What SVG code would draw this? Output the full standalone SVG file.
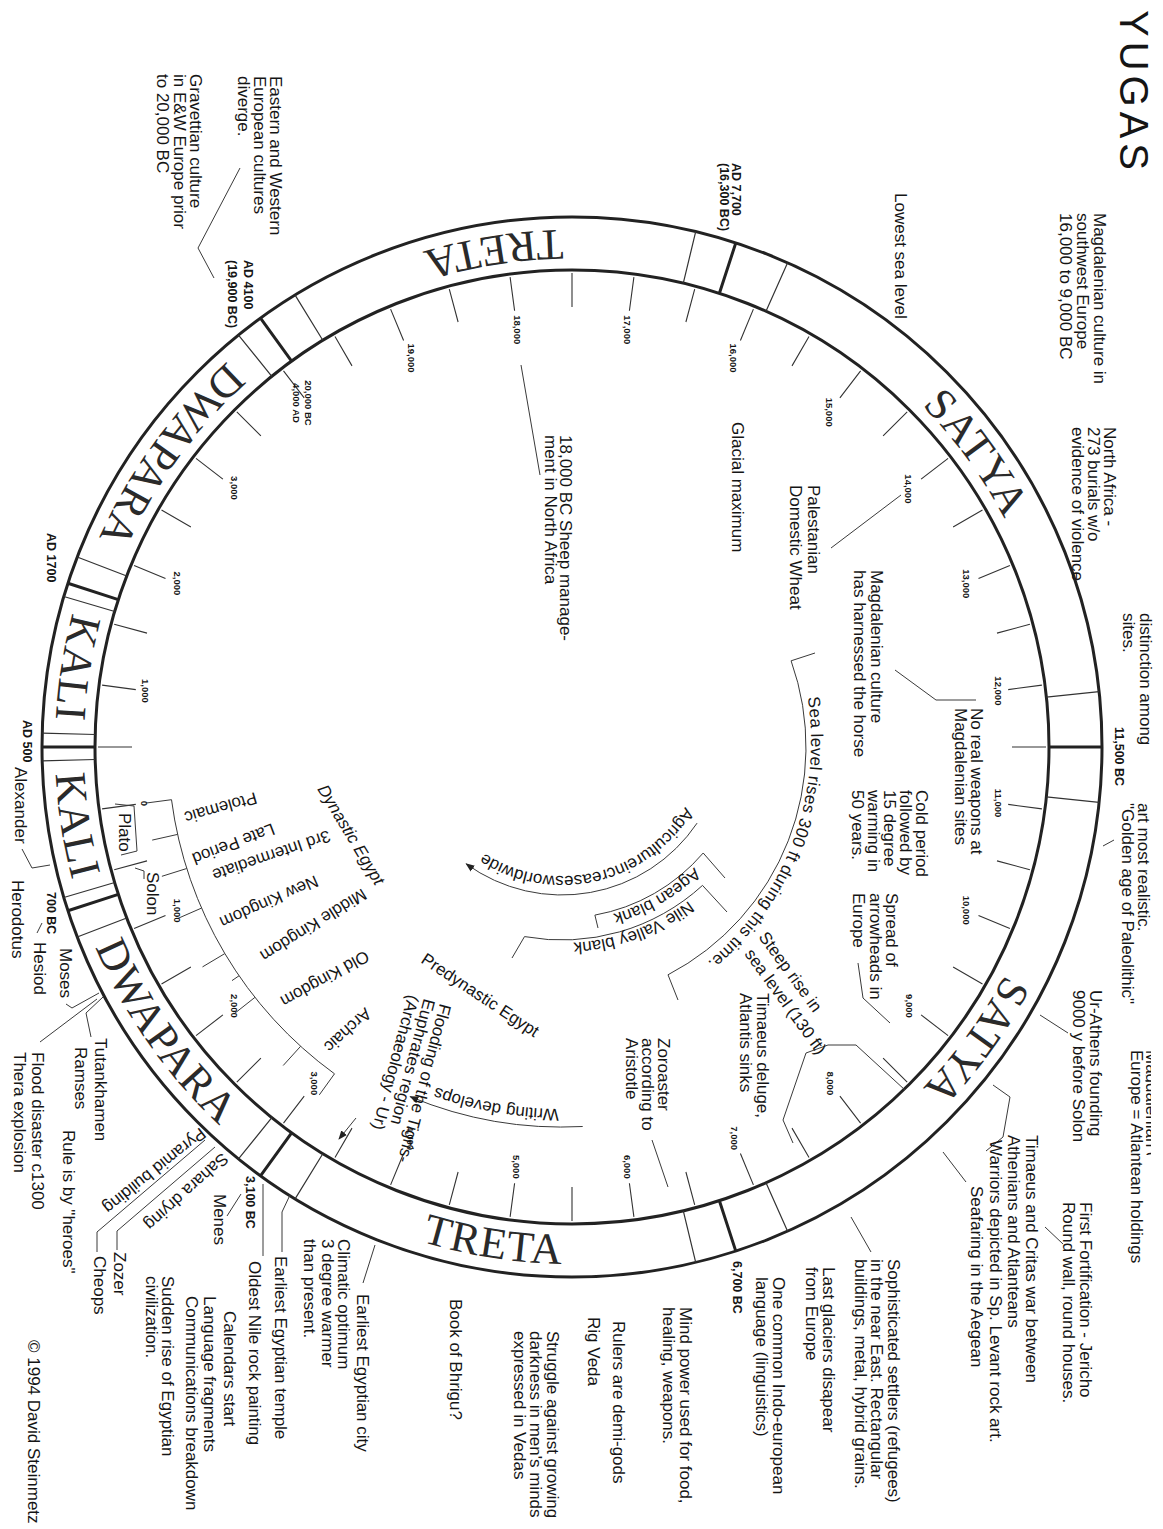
<svg xmlns="http://www.w3.org/2000/svg" width="1163" height="1529" viewBox="0 0 1163 1529">
<style>
text{font-family:"Liberation Sans",Arial,sans-serif;fill:#151515}
.t{font-size:17px}
.d{font-size:12.5px;font-weight:bold}
.k{font-size:9.5px;font-weight:bold;text-anchor:middle}
.y{font-family:"Liberation Serif","Times New Roman",serif;font-size:44px;letter-spacing:1px;fill:#2a2a2a}
.ln{stroke:#3a3a3a;stroke-width:1;fill:none}
.th{stroke:#222;stroke-width:3;fill:none}
.sn{stroke:#333;stroke-width:1.2;fill:none}
.tk{stroke:#333;stroke-width:1.1;fill:none}
</style>
<defs>
<marker id="ah" viewBox="0 0 10 10" refX="9" refY="5" markerWidth="9" markerHeight="9" orient="auto" markerUnits="userSpaceOnUse"><path d="M0,1 L10,5 L0,9 z" fill="#222"/></marker>
<clipPath id="edgeclip" clipPathUnits="userSpaceOnUse"><rect x="1047" y="12" width="108" height="5.5"/></clipPath>
<path id="pS1" d="M690.3,272.5 A489,489 0 0 1 1059.8,781.1"/>
<path id="pS2" d="M1059.8,712.9 A489,489 0 0 1 690.3,1221.5"/>
<path id="pT2" d="M181.8,1086.2 A517,517 0 0 0 838.3,1190.2"/>
<path id="pD2" d="M56.9,701.9 A517,517 0 0 0 437.7,1246.3"/>
<path id="pK2" d="M128.8,480.7 A517,517 0 0 0 232.8,1137.2"/>
<path id="pK1" d="M232.8,356.8 A517,517 0 0 0 128.8,1013.3"/>
<path id="pD1" d="M446.9,245.4 A517,517 0 0 0 56.2,783.1"/>
<path id="pT1" d="M838.3,303.8 A517,517 0 0 0 181.8,407.8"/>
<path id="pSea" d="M807.7,697.4 A288,288 0 0 1 700.3,967.9"/>
<path id="pAgr" d="M690.3,797.4 A144,144 0 0 1 475.3,847"/>
<path id="pAge" d="M725.7,826.5 A189,189 0 0 1 562,921"/>
<path id="pNile" d="M723.6,867.6 A211,211 0 0 1 525.4,939.8"/>
<path id="pWri" d="M627.5,1103.3 A377,377 0 0 1 373.5,1058.5"/>
</defs>
<rect width="1163" height="1529" fill="#fff"/>

<g id="ring">
<circle cx="572" cy="747" r="530" class="th"/>
<circle cx="572" cy="747" r="477" class="th"/>
<path class="th" d="M1049,747L1102,747M719.4,1200.7L735.8,1251.1M291.6,1132.9L260.5,1175.8M118.3,894.4L67.9,910.8M95,747L42,747M118.3,599.6L67.9,583.2M291.6,361.1L260.5,318.2M719.4,293.3L735.8,242.9"/>
<path class="sn" d="M1046.4,796.8L1099.1,802.4M766,1182.7L787.6,1231.2M683.3,1210.8L695.7,1262.4M322.8,1153.7L295.1,1198.9M271.8,1117.7L238.5,1158.9M126.7,918L77.2,937M114.7,882.5L63.8,897.5M95.1,759.5L42.2,760.9M95.1,734.5L42.2,733.1M114.7,611.5L63.8,596.5M126.7,576L77.2,557M271.8,376.3L238.5,335.1M322.8,340.3L295.1,295.1M683.3,283.2L695.7,231.6M766,311.3L787.6,262.8M1046.4,697.2L1099.1,691.6"/>
<path class="tk" d="M1046 747L1012 747M1041.9 808.9L1008.2 804.4M1029.9 869.7L997 860.9M1009.9 928.4L978.5 915.4M982.5 984L953.1 967M948.1 1035.6L921.1 1014.9M907.2 1082.2L883.1 1058.1M860.6 1123.1L839.9 1096.1M809 1157.5L792 1128.1M753.4 1184.9L740.4 1153.5M694.7 1204.9L685.9 1172M633.9 1216.9L629.4 1183.2M572 1221L572 1187M510.1 1216.9L514.6 1183.2M449.3 1204.9L458.1 1172M390.6 1184.9L403.6 1153.5M335 1157.5L352 1128.1M283.5 1123.1L304.2 1096.1M236.8 1082.2L260.9 1058.1M196 1035.6L222.9 1014.9M161.5 984L190.9 967M134.1 928.4L165.5 915.4M114.2 869.7L147 860.9M102.1 808.9L135.8 804.4M98 747L132 747M102.1 685.1L135.8 689.6M114.2 624.3L147 633.1M134.1 565.6L165.5 578.6M161.5 510L190.9 527M196 458.4L222.9 479.1M236.8 411.8L260.9 435.9M283.5 370.9L304.2 397.9M335 336.5L352 365.9M390.6 309.1L403.6 340.5M449.3 289.1L458.1 322M510.1 277.1L514.6 310.8M572 273L572 307M633.9 277.1L629.4 310.8M694.7 289.1L685.9 322M753.4 309.1L740.4 340.5M809 336.5L792 365.9M860.6 370.9L839.9 397.9M907.2 411.8L883.1 435.9M948.1 458.4L921.1 479.1M982.5 510L953.1 527M1009.9 565.6L978.5 578.6M1029.9 624.3L997 633.1M1041.9 685.1L1008.2 689.6"/>
<text class="y"><textPath href="#pS1" startOffset="50%" text-anchor="middle">SATYA</textPath></text>
<text class="y"><textPath href="#pS2" startOffset="50%" text-anchor="middle">SATYA</textPath></text>
<text class="y"><textPath href="#pT2" startOffset="50%" text-anchor="middle">TRETA</textPath></text>
<text class="y"><textPath href="#pD2" startOffset="50%" text-anchor="middle">DWAPARA</textPath></text>
<text class="y"><textPath href="#pK2" startOffset="50%" text-anchor="middle">KALI</textPath></text>
<text class="y"><textPath href="#pK1" startOffset="50%" text-anchor="middle">KALI</textPath></text>
<text class="y"><textPath href="#pD1" startOffset="50%" text-anchor="middle">DWAPARA</textPath></text>
<text class="y"><textPath href="#pT1" startOffset="50%" text-anchor="middle">TRETA</textPath></text>
</g>

<g id="connectors">
<polyline class="ln" points="240,168 198,248 214,278"/>
<line class="ln" x1="521" y1="365" x2="540" y2="475"/>
<line class="ln" x1="831" y1="548" x2="901" y2="495"/>
<polyline class="ln" points="895,670 936,700 976,700"/>
<polyline class="ln" points="858,963 863,998 890,1023"/>
<line class="ln" x1="1040" y1="1015" x2="1068" y2="1033"/>
<line class="ln" x1="1103" y1="846" x2="1114" y2="840"/>
<line class="ln" x1="943" y1="1152" x2="966" y2="1182"/>
<line class="ln" x1="1045" y1="1227" x2="1063" y2="1244"/>
<line class="ln" x1="851" y1="1217" x2="871" y2="1252"/>
<line class="ln" x1="652" y1="1140" x2="668" y2="1187"/>
<line class="ln" x1="375" y1="1245" x2="363" y2="1283"/>
<polyline class="ln" points="290,1195 282,1212 282,1252"/>
<line class="ln" x1="263" y1="1184" x2="263" y2="1256"/>
<line class="ln" x1="241" y1="1194" x2="227" y2="1216"/>
<polyline class="ln" points="205,1140 97,1232 97,1252"/>
<polyline class="ln" points="215,1147 117,1231 117,1250"/>
<line class="ln" x1="40" y1="1042" x2="97" y2="999"/>
<polyline class="ln" points="103,997 86,1013 91,1037"/>
<polyline class="ln" points="99,993 72,1008 66,1004"/>
<polyline class="ln" points="22,849 32,868 50,865"/>
<line class="ln" x1="42" y1="923" x2="37" y2="933"/>
<polyline class="ln" points="115,804 134,806 137,851 121,855"/>
<polyline class="ln" points="135,868 144,871 144,879"/>
<polyline class="ln" points="993,1085 1010,1097 1003,1137 986,1151"/>
<polyline class="ln" points="806,1053 828,1045 856,1045 905,1090"/>
<polyline class="ln" points="806,1053 783,1120 793,1143"/>
<path class="ln" d="M815,653 L791.1,660.8 A257,257 0 0 1 668,974.8 L678,1000"/>
<path class="ln" d="M697.1,823.1 A163,163 0 0 1 466.2,863.9" marker-end="url(#ah)"/>
<path class="ln" d="M725,878 L703.2,853 A186,186 0 0 1 594.9,915.1 L598,928"/>
<path class="ln" d="M727,912 L702.5,885.4 A208,208 0 0 1 524.5,936.6 L512,958"/>
<path class="ln" d="M582.7,1126.5 A395,395 0 0 1 410.2,1096.7" marker-end="url(#ah)"/>
<path class="ln" d="M171.5,799.7 A404,404 0 0 0 334.5,1073.8"/>
<path class="ln" d="M171.5,799.7L145.7,803.1M177.6,834.4L152.2,840.1M186.7,868.5L161.9,876.3M201.5,908.1L177.7,918.5M224.8,953.6L202.5,966.9M239,975.8L232,980.6M254.9,997.4L234.5,1013.5M300.6,1046.3L283.2,1065.5M334.5,1073.8L319.3,1094.9"/>
<line class="ln" x1="356" y1="1118" x2="339" y2="1139" marker-end="url(#ah)"/>
</g>

<g id="curved-labels">
<g id="sea-level"><text class="t"><textPath href="#pSea" textLength="296">Sea level rises 300 ft during this time.</textPath></text></g>
<g id="agriculture"><text class="t" font-size="16"><textPath href="#pAgr" startOffset="50%" text-anchor="middle">Agricultureincreasesworldwide</textPath></text></g>
<g id="agean"><text class="t" font-size="15.5"><textPath href="#pAge" startOffset="50%" text-anchor="middle">Agean blank</textPath></text></g>
<g id="nile"><text class="t" font-size="15.5"><textPath href="#pNile" startOffset="50%" text-anchor="middle">Nile Valley blank</textPath></text></g>
<g id="writing"><text class="t"><textPath href="#pWri" startOffset="50%" text-anchor="middle">Writing develops</textPath></text></g>
<g id="dynastic"><text class="t" font-size="24" font-style="italic" transform="translate(317,789) rotate(59)">Dynastic Egypt</text></g>
<g id="predynastic"><text class="t" transform="translate(420,962) rotate(33.5)">Predynastic Egypt</text></g>
<g id="ptolemaic"><text class="t" transform="translate(255,792) rotate(164)">Ptolemaic</text></g>
<g id="late"><text class="t" transform="translate(272,823) rotate(159)">Late Period</text></g>
<g id="third"><text class="t" transform="translate(328,830) rotate(161)">3rd Intermediate</text></g>
<g id="newk"><text class="t" transform="translate(315,875) rotate(156)">New Kingdom</text></g>
<g id="midk"><text class="t" transform="translate(362,888) rotate(148)">Middle Kingdom</text></g>
<g id="oldk"><text class="t" transform="translate(365,950) rotate(151)">Old Kingdom</text></g>
<g id="archaic"><text class="t" transform="translate(365,1007) rotate(138)">Archaic</text></g>
<g id="steep"><text class="t" transform="translate(758,937) rotate(54)">Steep rise in</text><text class="t" transform="translate(744,954) rotate(54)">sea level (130 ft)</text></g>
<g id="flooding"><text class="t" transform="translate(440,1003) rotate(105)">Flooding of the Tigris-</text><text class="t" transform="translate(424,998) rotate(105)">Euphrates region</text><text class="t" transform="translate(408,994) rotate(105)">(Archaeology - Ur)</text></g>
<g id="pyramid"><text class="t" transform="translate(200,1127) rotate(141.3)">Pyramid building</text></g>
<g id="sahara"><text class="t" font-size="16" transform="translate(222,1152) rotate(138)">Sahara drying</text></g>
</g>

<g id="page" transform="translate(1163,0) rotate(90)">
<g id="title"><text x="10" y="43" font-size="40" letter-spacing="5" fill="#444">YUGAS</text></g>
<g id="ticklabels">
<text class="k" x="803.1" y="168.3">11,000</text>
<text class="k" x="910.2" y="200.3">10,000</text>
<text class="k" x="1006" y="256.8">9,000</text>
<text class="k" x="1083.3" y="336.2">8,000</text>
<text class="k" x="1138.1" y="432.3">7,000</text>
<text class="k" x="1166.8" y="539">6,000</text>
<text class="k" x="1166.8" y="649.6">5,000</text>
<text class="k" x="1138.1" y="756.3">4,000</text>
<text class="k" x="1083.3" y="852.4">3,000</text>
<text class="k" x="1006" y="931.8">2,000</text>
<text class="k" x="910.6" y="989.3">1,000</text>
<text class="k" x="803.3" y="1021.8">0</text>
<text class="k" x="690.9" y="1020.7">1,000</text>
<text class="k" x="583.4" y="989.3">2,000</text>
<text class="k" x="488" y="931.8">3,000</text>
<text class="k" x="358" y="755.4">19,000</text>
<text class="k" x="329.7" y="649.2">18,000</text>
<text class="k" x="329.7" y="539.4">17,000</text>
<text class="k" x="358" y="433.2">16,000</text>
<text class="k" x="412.2" y="337.4">15,000</text>
<text class="k" x="488.9" y="258">14,000</text>
<text class="k" x="583.8" y="200.3">13,000</text>
<text class="k" x="690.9" y="168.3">12,000</text>
<text class="k" x="403" y="858" text-anchor="start">20,000 BC</text>
<text class="k" x="403" y="870" text-anchor="start">4,000 AD</text>
</g>
<g id="magd1"><text class="t" font-size="16.5" x="213" y="69">Magdalenian culture in<tspan x="213" y="86">southwest Europe</tspan><tspan x="213" y="103">16,000 to 9,000 BC</tspan></text></g>
<g id="lowest"><text class="t" x="193" y="268">Lowest sea level</text></g>
<g id="ad7700"><text class="d" x="163" y="431">AD 7,700<tspan x="163" y="443">(16,300 BC)</tspan></text></g>
<g id="eastern"><text class="t" x="76" y="893">Eastern and Western<tspan x="76" y="909">European cultures</tspan><tspan x="76" y="925">diverge.</tspan></text></g>
<g id="gravettian"><text class="t" x="74" y="973">Gravettian culture<tspan x="74" y="989">in E&amp;W Europe prior</tspan><tspan x="74" y="1006">to 20,000 BC</tspan></text></g>
<g id="ad4100"><text class="d" x="260" y="919">AD 4100<tspan x="260" y="935">(19,900 BC)</tspan></text></g>
<g id="sheep"><text class="t" x="435" y="603">18,000 BC Sheep manage-<tspan x="435" y="618">ment in North Africa</tspan></text></g>
<g id="glacial"><text class="t" x="422" y="431">Glacial maximum</text></g>
<g id="wheat"><text class="t" x="485" y="355">Palestanian<tspan x="485" y="373">Domestic Wheat</tspan></text></g>
<g id="burials"><text class="t" x="427" y="59">North Africa -<tspan x="427" y="75">273 burials w/o</tspan><tspan x="427" y="91">evidence of violence</tspan></text></g>
<g id="distinction"><text class="t" x="613" y="23">distinction among<tspan x="613" y="40">sites.</tspan></text></g>
<g id="bc11500"><text class="d" x="727" y="48">11,500 BC</text></g>
<g id="golden"><text class="t" x="803" y="25">art most realistic.<tspan x="803" y="41">"Golden age of Paleolithic"</tspan></text></g>
<g id="urathens"><text class="t" x="990" y="73">Ur-Athens founding<tspan x="990" y="90">9000 y before Solon</tspan></text></g>
<g id="atlantean"><text class="t" x="1050" y="32">Europe = Atlantean holdings</text><text class="t" x="1050" y="17" clip-path="url(#edgeclip)">Magdalenian culture in</text></g>
<g id="timaeus"><text class="t" x="1135" y="137">Timaeus and Critas war between<tspan x="1135" y="155">Athenians and Atlanteans</tspan><tspan x="1140" y="173">Warriors depicted in Sp. Levant rock art.</tspan><tspan x="1186" y="192">Seafaring in the Aegean</tspan></text></g>
<g id="jericho"><text class="t" x="1202" y="83">First Fortification - Jericho<tspan x="1202" y="100">Round wall, round houses.</tspan></text></g>
<g id="settlers"><text class="t" x="1259" y="275">Sophisticated settlers (refugees)<tspan x="1259" y="292">in the near East. Rectangular</tspan><tspan x="1259" y="308">buildings, metal, hybrid grains.</tspan></text></g>
<g id="glaciers"><text class="t" x="1267" y="340">Last glaciers disapear<tspan x="1267" y="357">from Europe</tspan></text></g>
<g id="indo"><text class="t" x="1277" y="390">One common Indo-european<tspan x="1277" y="407">language (linguistics)</tspan></text></g>
<g id="bc6700"><text class="d" x="1261" y="430">6,700 BC</text></g>
<g id="mind"><text class="t" x="1307" y="483">Mind power used for food,<tspan x="1307" y="500">healing, weapons.</tspan></text></g>
<g id="rulers"><text class="t" x="1321" y="550">Rulers are demi-gods</text></g>
<g id="rigveda"><text class="t" x="1317" y="575">Rig Veda</text></g>
<g id="struggle"><text class="t" x="1331" y="616">Struggle against growing<tspan x="1331" y="633">darkness in men's minds</tspan><tspan x="1331" y="649">expressed in Vedas</tspan></text></g>
<g id="bhrigu"><text class="t" x="1299" y="713">Book of Bhrigu?</text></g>
<g id="city"><text class="t" x="1294" y="806">Earliest Egyptian city</text></g>
<g id="climatic"><text class="t" x="1239" y="825">Climatic optimum<tspan x="1239" y="841">3 degree warmer</tspan><tspan x="1239" y="859">than present.</tspan></text></g>
<g id="temple"><text class="t" x="1256" y="888">Earliest Egyptian temple</text></g>
<g id="rock"><text class="t" x="1261" y="914">Oldest Nile rock painting</text></g>
<g id="calendars"><text class="t" x="1311" y="939">Calendars start</text></g>
<g id="language"><text class="t" x="1296" y="959">Language fragments<tspan x="1296" y="977">Communications breakdown</tspan></text></g>
<g id="sudden"><text class="t" x="1276" y="1001">Sudden rise of Egyptian<tspan x="1276" y="1017">civilization.</tspan></text></g>
<g id="bc3100"><text class="d" x="1176" y="917">3,100 BC</text></g>
<g id="menes"><text class="t" x="1194" y="949">Menes</text></g>
<g id="zozer"><text class="t" x="1252" y="1049">Zozer</text></g>
<g id="cheops"><text class="t" x="1256" y="1069">Cheops</text></g>
<g id="heroes"><text class="t" x="1130" y="1100">Rule is by "heroes"</text></g>
<g id="flood"><text class="t" x="1052" y="1131">Flood disaster c1300<tspan x="1052" y="1149">Thera explosion</tspan></text></g>
<g id="tut"><text class="t" x="1038" y="1068">Tutankhamen</text><text class="t" x="1047" y="1088">Ramses</text></g>
<g id="moses"><text class="t" x="948" y="1103">Moses</text></g>
<g id="hesiod"><text class="t" x="942" y="1129">Hesiod</text></g>
<g id="bc700"><text class="d" x="892" y="1116">700 BC</text></g>
<g id="herodotus"><text class="t" x="880" y="1151">Herodotus</text></g>
<g id="alexander"><text class="t" x="767" y="1148">Alexander</text></g>
<g id="ad500"><text class="d" x="720" y="1140">AD 500</text></g>
<g id="ad1700"><text class="d" x="533" y="1116">AD 1700</text></g>
<g id="plato"><text class="t" x="813" y="1044">Plato</text></g>
<g id="solon"><text class="t" x="872" y="1016">Solon</text></g>
<g id="deluge"><text class="t" x="993" y="406">Timaeus deluge,<tspan x="993" y="423">Atlantis sinks</tspan></text></g>
<g id="zoroaster"><text class="t" x="1038" y="505">Zoroaster<tspan x="1038" y="521">according to</tspan><tspan x="1038" y="537">Aristotle</tspan></text></g>
<g id="cold"><text class="t" x="790" y="247">Cold period<tspan x="790" y="263">followed by</tspan><tspan x="790" y="279">15 degree</tspan><tspan x="790" y="295">warming in</tspan><tspan x="790" y="311">50 years.</tspan></text></g>
<g id="weapons"><text class="t" x="708" y="192">No real weapons at<tspan x="708" y="208">Magdalenian sites</tspan></text></g>
<g id="horse"><text class="t" x="570" y="292">Magdalenian culture<tspan x="570" y="309">has harnessed the horse</tspan></text></g>
<g id="arrowheads"><text class="t" x="893" y="277">Spread of<tspan x="893" y="293">arrowheads in</tspan><tspan x="893" y="310">Europe</tspan></text></g>
<g id="copyright"><text class="t" font-size="15" x="1340" y="1135">© 1994 David Steinmetz</text></g>
</g>
</svg>
